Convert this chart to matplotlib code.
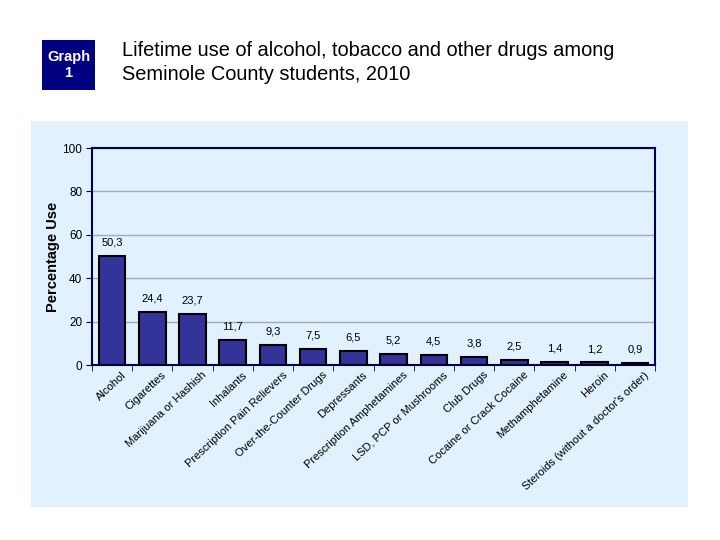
import matplotlib
matplotlib.use("Agg")
import matplotlib.pyplot as plt
import matplotlib.transforms as mtransforms
import numpy as np

plt.rcParams['font.family'] = ['Liberation Sans', 'DejaVu Sans']

categories = ["Alcohol", "Cigarettes", "Marijuana or Hashish", "Inhalants",
              "Prescription Pain Relievers", "Over-the-Counter Drugs", "Depressants",
              "Prescription Amphetamines", "LSD, PCP or Mushrooms", "Club Drugs",
              "Cocaine or Crack Cocaine", "Methamphetamine", "Heroin",
              "Steroids (without a doctor's order)"]
values = [50.3, 24.4, 23.7, 11.7, 9.3, 7.5, 6.5, 5.2, 4.5, 3.8, 2.5, 1.4, 1.2, 0.9]
value_labels = ["50,3", "24,4", "23,7", "11,7", "9,3", "7,5", "6,5", "5,2", "4,5",
                "3,8", "2,5", "1,4", "1,2", "0,9"]
yticks = [0, 20, 40, 60, 80, 100]

fig = plt.figure(figsize=(7.2, 5.4), dpi=100)
fig.patch.set_facecolor('white')

# light blue panel
panel = fig.add_axes([0.043, 0.061, 0.9125, 0.7148])
panel.set_facecolor('#E1F1FD')
for s in panel.spines.values():
    s.set_visible(False)
panel.set_xticks([]); panel.set_yticks([])

# Graph 1 box
box = fig.add_axes([42/720, 1-90/540, 53/720, 50/540])
box.set_facecolor('#000080')
for s in box.spines.values():
    s.set_visible(False)
box.set_xticks([]); box.set_yticks([])
box.text(0.5, 0.5, "Graph\n1", color='white', fontsize=10.5, fontweight='bold',
         ha='center', va='center', transform=box.transAxes, linespacing=1.25,
         fontstretch='condensed')

fig.text(122/720, 1-50/540, "Lifetime use of alcohol, tobacco and other drugs among",
         fontsize=14.4, va='center', ha='left')
fig.text(122/720, 1-75/540, "Seminole County students, 2010",
         fontsize=14.4, va='center', ha='left')

ax = fig.add_axes([92/720, 1-365/540, (655-92)/720, (365-148)/540])
ax.set_facecolor('#E1F1FD')
x = np.arange(len(categories))
bars = ax.bar(x, values, width=0.66, color='#333399', edgecolor='black', linewidth=1.5, zorder=3)
ax.set_xlim(-0.5, len(categories) - 0.5)
ax.set_ylim(0, 100)
ax.set_yticks(yticks)
ax.set_yticklabels([str(v) for v in yticks], fontsize=8.5)
ax.yaxis.grid(True, color='#A8A8B8', linewidth=1, zorder=0)
ax.set_ylabel("Percentage Use", fontsize=10.5, fontweight='bold', labelpad=2)

for s in ax.spines.values():
    s.set_color('#000050')
    s.set_linewidth(1.5)

ax.tick_params(axis='y', direction='out', length=4, color='#000050', pad=3)
ax.set_xticks(x)
ax.set_xticks(np.arange(-0.5, len(categories), 1.0), minor=True)
ax.tick_params(axis='x', which='major', length=0, pad=2)
ax.tick_params(axis='x', which='minor', direction='out', length=4, color='#000050')

offset = mtransforms.ScaledTranslation(9/100, -2/100, fig.dpi_scale_trans)
ax.set_xticklabels(categories, rotation=43, ha='right', va='top',
                   rotation_mode='anchor', fontsize=8)
for lbl in ax.get_xticklabels():
    lbl.set_transform(lbl.get_transform() + offset)

for xi, v, lab in zip(x, values, value_labels):
    ax.annotate(lab, (xi, v), xytext=(0, 6), textcoords='offset points',
                ha='center', va='bottom', fontsize=8)

fig.savefig("out.png", dpi=100)
